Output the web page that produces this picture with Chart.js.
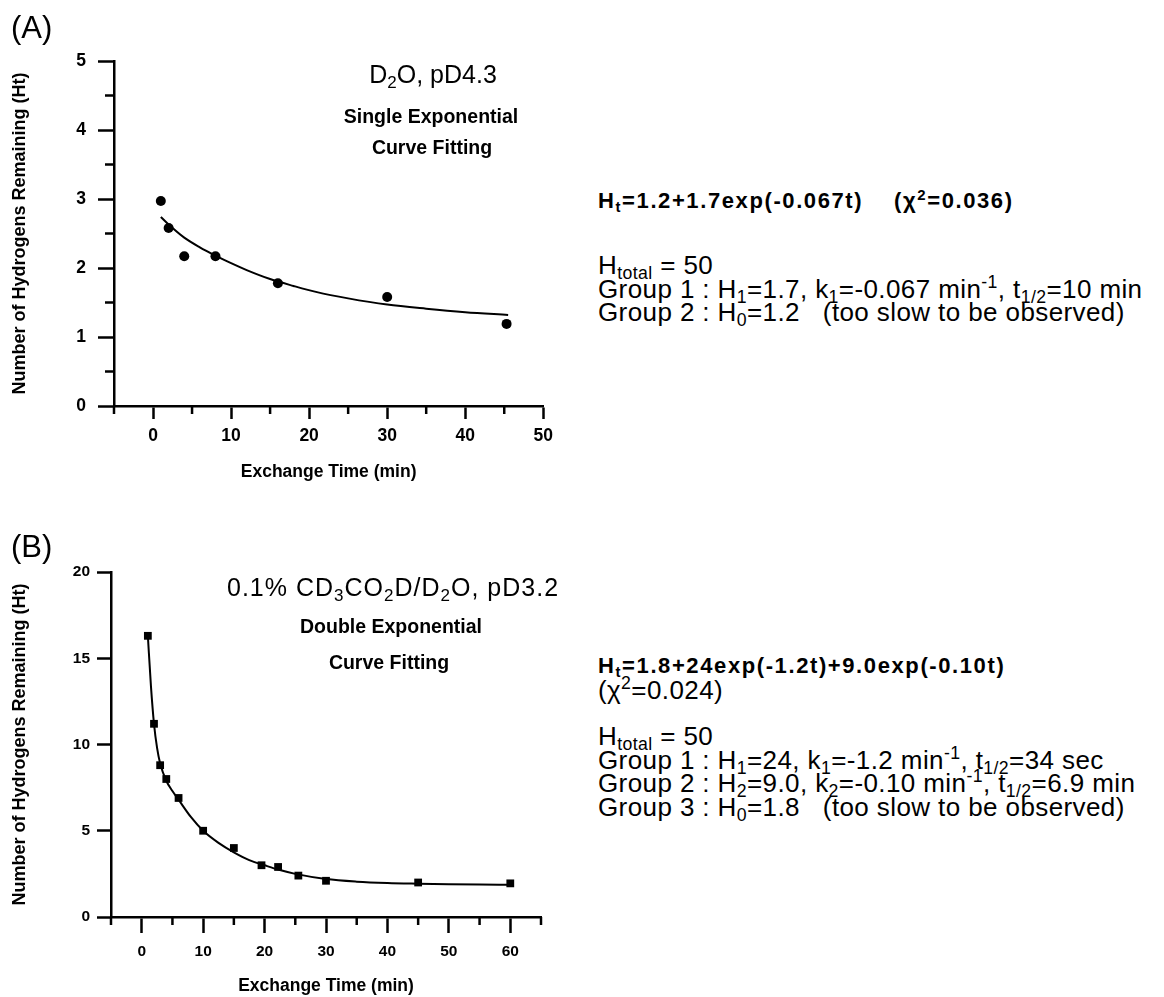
<!DOCTYPE html>
<html>
<head>
<meta charset="utf-8">
<script src="https://cdn.jsdelivr.net/npm/chart.js@4.4.1/dist/chart.umd.min.js"></script>
<style>
  body { margin: 0; background: #fff; }
  #page { position: relative; width: 1164px; height: 997px; font-family: "Liberation Sans", Arial, sans-serif; color: #000; }
  #page canvas { position: absolute; left: 0; }
  .t { position: absolute; white-space: nowrap; line-height: 1; }
  .c { transform: translate(-50%, -50%); }
  .panel { font-size: 31px; }
  .cond { font-size: 25px; }
  .fit { font-size: 19.5px; font-weight: bold; }
  .eq { font-size: 22px; font-weight: bold; letter-spacing: 1.6px; }
  .info { font-size: 26px; line-height: 23.5px; letter-spacing: 0.4px; }
  sub, sup { font-size: 68%; line-height: 0; }
  sub { vertical-align: -0.3em; }
  sup { vertical-align: 0.55em; }
</style>
</head>
<body>
<div id="page">
  <canvas id="chartA" width="560" height="500" style="top:0"></canvas>
  <canvas id="chartB" width="560" height="497" style="top:500px"></canvas>

  <div class="t panel" style="left:11px; top:12px">(A)</div>
  <div class="t cond c" style="left:433px; top:74px">D<sub>2</sub>O, pD4.3</div>
  <div class="t fit c" style="left:431px; top:117px">Single Exponential</div>
  <div class="t fit c" style="left:432px; top:148px">Curve Fitting</div>

  <div class="t eq" style="left:598px; top:190px">H<sub>t</sub>=1.2+1.7exp(-0.067t)&nbsp;&nbsp;&nbsp;&nbsp;(χ<sup>2</sup>=0.036)</div>
  <div class="t info" style="left:598px; top:254px">
    H<sub>total</sub> = 50<br>
    Group 1 : H<sub>1</sub>=1.7, k<sub>1</sub>=-0.067 min<sup>-1</sup>, t<sub>1/2</sub>=10 min<br>
    Group 2 : H<sub>0</sub>=1.2&nbsp;&nbsp;&nbsp;(too slow to be observed)
  </div>

  <div class="t panel" style="left:11px; top:531px">(B)</div>
  <div class="t cond" style="left:227px; top:575px; letter-spacing: 1px">0.1% CD<sub>3</sub>CO<sub>2</sub>D/D<sub>2</sub>O, pD3.2</div>
  <div class="t fit c" style="left:391px; top:627px">Double Exponential</div>
  <div class="t fit c" style="left:389px; top:663px">Curve Fitting</div>

  <div class="t eq" style="left:598px; top:655px">H<sub>t</sub>=1.8+24exp(-1.2t)+9.0exp(-0.10t)</div>
  <div class="t info" style="left:598px; top:679px">(χ<sup>2</sup>=0.024)</div>
  <div class="t info" style="left:598px; top:725px">
    H<sub>total</sub> = 50<br>
    Group 1 : H<sub>1</sub>=24, k<sub>1</sub>=-1.2 min<sup>-1</sup>, t<sub>1/2</sub>=34 sec<br>
    Group 2 : H<sub>2</sub>=9.0, k<sub>2</sub>=-0.10 min<sup>-1</sup>, t<sub>1/2</sub>=6.9 min<br>
    Group 3 : H<sub>0</sub>=1.8&nbsp;&nbsp;&nbsp;(too slow to be observed)
  </div>
</div>

<script>
// ---- panel A : D2O, pD4.3 ----
const timeA = [1, 2, 4, 8, 16, 30, 45.3];
const hydrogensA = [2.97, 2.58, 2.17, 2.17, 1.78, 1.58, 1.19];
const fitTimeA = [1, 2, 4, 6, 8, 10, 12, 15, 18, 21, 25, 30, 35, 40, 45.5];
const fitValA = [2.74, 2.63, 2.44, 2.30, 2.18, 2.07, 1.97, 1.84, 1.74, 1.65, 1.56, 1.47, 1.41, 1.36, 1.32];
const xTicksA = [0, 10, 20, 30, 40, 50];
const yTicksA = [0, 1, 2, 3, 4, 5];

// ---- panel B : 0.1% CD3CO2D/D2O, pD3.2 ----
const timeB = [1, 2, 3, 4, 6, 10, 15, 19.5, 22.2, 25.5, 30, 45, 60];
const hydrogensB = [16.3, 11.2, 8.8, 8.0, 6.9, 5.0, 4.0, 3.0, 2.9, 2.4, 2.1, 2.0, 1.95];
const fitTimeB = [1, 1.5, 2, 2.5, 3, 4, 5, 6, 8, 10, 12.5, 15, 17.5, 20, 22.5, 25, 30, 35, 40, 45, 50, 55, 60];
const fitValB = [16.3, 13.4, 11.2, 9.8, 8.9, 7.9, 7.3, 6.8, 5.8, 5.0, 4.3, 3.75, 3.3, 3.0, 2.72, 2.5, 2.2, 2.05, 1.97, 1.93, 1.9, 1.88, 1.87];
const xTicksB = [0, 10, 20, 30, 40, 50, 60];
const yTicksB = [0, 5, 10, 15, 20];

const FONT = '"Liberation Sans", Arial, sans-serif';
Chart.defaults.font.family = FONT;
Chart.defaults.color = '#000';

const pairs = (xs, ys) => xs.map((x, i) => ({ x: x, y: ys[i] }));

// short in-between ticks, placed with the scale itself
const minorTicks = {
  id: 'minorTicks',
  afterDraw(chart, args, opts) {
    const ctx = chart.ctx;
    const area = chart.chartArea;
    ctx.save();
    ctx.strokeStyle = '#000';
    ctx.lineWidth = 2.5;
    ['x', 'y'].forEach(id => {
      const o = opts[id];
      if (!o) return;
      const sc = chart.scales[id];
      const majors = sc.ticks.map(t => t.value);
      for (let v = sc.min; v <= sc.max + 1e-9; v += o.step) {
        if (majors.some(m => Math.abs(m - v) < 1e-9)) continue;
        const p = sc.getPixelForValue(v);
        ctx.beginPath();
        if (id === 'x') { ctx.moveTo(p, area.bottom); ctx.lineTo(p, area.bottom + o.len); }
        else { ctx.moveTo(area.left - o.len, p); ctx.lineTo(area.left, p); }
        ctx.stroke();
      }
    });
    ctx.restore();
  }
};

function makeChart(id, cfg) {
  return new Chart(document.getElementById(id), {
    type: 'scatter',
    data: {
      datasets: [
        {
          data: pairs(cfg.fitX, cfg.fitY),
          showLine: true,
          borderColor: '#000',
          borderWidth: 2,
          pointRadius: 0,
          cubicInterpolationMode: 'monotone'
        },
        {
          data: pairs(cfg.ptX, cfg.ptY),
          showLine: false,
          pointStyle: cfg.pointStyle,
          pointRadius: cfg.pointRadius,
          backgroundColor: '#000',
          borderColor: '#000',
          borderWidth: 0
        }
      ]
    },
    options: {
      responsive: false,
      animation: false,
      devicePixelRatio: 1,
      layout: { padding: cfg.padding },
      plugins: {
        legend: { display: false },
        tooltip: { enabled: false },
        minorTicks: cfg.minor
      },
      scales: {
        x: {
          type: 'linear',
          min: cfg.xMin,
          max: cfg.xMax,
          afterBuildTicks: s => { s.ticks = cfg.xTicks.map(v => ({ value: v })); },
          afterFit: s => { s.height = cfg.xHeight; },
          border: { color: '#000', width: 2.5 },
          grid: { drawOnChartArea: false, tickLength: cfg.xTickLen, tickColor: '#000', tickWidth: 2.5 },
          ticks: { font: { size: cfg.tickSize, weight: 'bold' }, padding: cfg.xTickPad, maxRotation: 0 },
          title: {
            display: true,
            text: 'Exchange Time (min)',
            font: { size: 17.5, weight: 'bold' },
            padding: { top: 0, bottom: cfg.xTitlePad }
          }
        },
        y: {
          type: 'linear',
          min: cfg.yMin,
          max: cfg.yMax,
          afterBuildTicks: s => { s.ticks = cfg.yTicks.map(v => ({ value: v })); },
          afterFit: s => { s.width = cfg.yWidth; },
          border: { color: '#000', width: 2.5 },
          grid: { drawOnChartArea: false, tickLength: cfg.yTickLen, tickColor: '#000', tickWidth: 2.5 },
          ticks: { font: { size: cfg.tickSize, weight: 'bold' }, padding: cfg.yTickPad },
          title: {
            display: true,
            text: 'Number of Hydrogens Remaining (Ht)',
            font: { size: 18, weight: 'bold' },
            padding: { top: 9, bottom: 0 }
          }
        }
      }
    },
    plugins: [minorTicks]
  });
}

makeChart('chartA', {
  ptX: timeA, ptY: hydrogensA, fitX: fitTimeA, fitY: fitValA,
  xTicks: xTicksA, yTicks: yTicksA,
  xMin: -5, xMax: 50, yMin: 0, yMax: 5,
  pointStyle: 'circle', pointRadius: 5,
  padding: { top: 61, right: 12, left: 0, bottom: 0 },
  xHeight: 94, yWidth: 114,
  xTickLen: 13, yTickLen: 16, xTickPad: 7, yTickPad: 12,
  tickSize: 17.5, xTitlePad: 17,
  minor: { x: { step: 5, len: 8 }, y: { step: 0.5, len: 9 } }
});

makeChart('chartB', {
  ptX: timeB, ptY: hydrogensB, fitX: fitTimeB, fitY: fitValB,
  xTicks: xTicksB, yTicks: yTicksB,
  xMin: -5, xMax: 65, yMin: 0, yMax: 20,
  pointStyle: 'rect', pointRadius: 5.5,
  padding: { top: 72, right: 19, left: 0, bottom: 0 },
  xHeight: 80, yWidth: 111,
  xTickLen: 16, yTickLen: 14, xTickPad: 9, yTickPad: 7,
  tickSize: 15.5, xTitlePad: 0,
  minor: { x: { step: 5, len: 8 } }
});
</script>
</body>
</html>
